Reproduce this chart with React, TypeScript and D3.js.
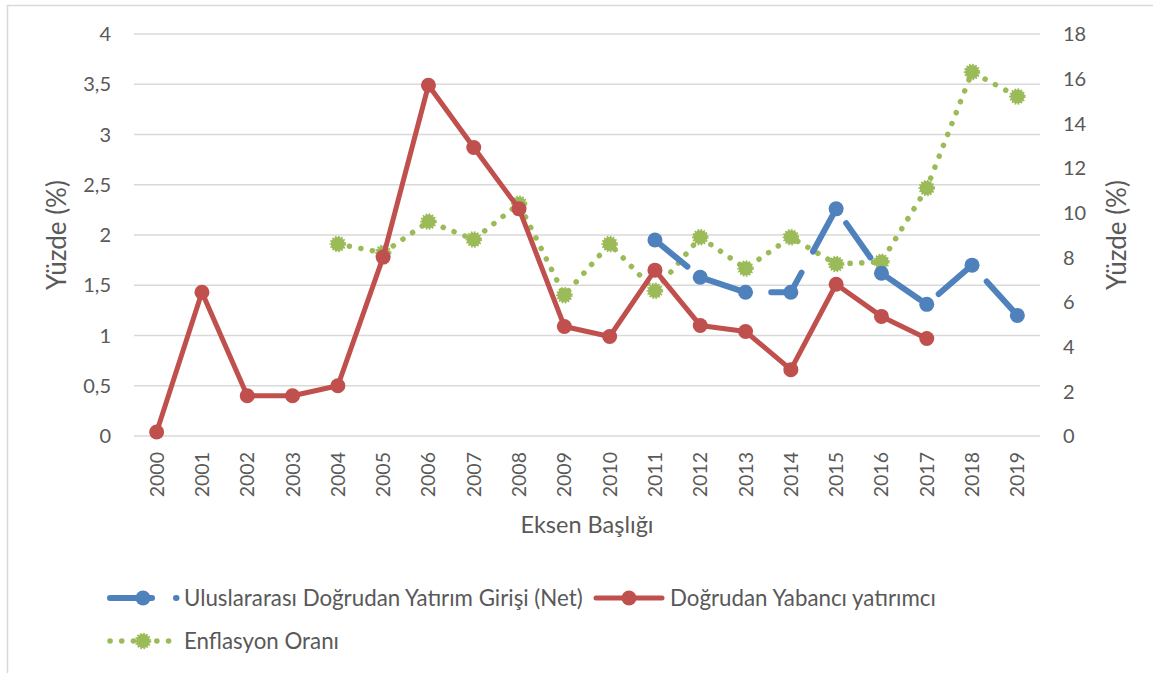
import React, { useEffect, useRef } from "react";
import { select, scaleBand, scaleLinear, line, range } from "d3";

const years = range(2000, 2020).map(String);

// Uluslararası Doğrudan Yatırım Girişi (Net) - left axis
const fdiInflow: (number | null)[] = [
    null, null, null, null, null, null, null, null, null, null, null,
    1.95, 1.58, 1.43, 1.43, 2.26, 1.62, 1.31, 1.70, 1.20,
];

// Doğrudan Yabancı yatırımcı - left axis
const foreignInvestor: (number | null)[] = [
    0.04, 1.43, 0.40, 0.40, 0.50, 1.78, 3.49, 2.87, 2.26, 1.09,
    0.99, 1.65, 1.10, 1.04, 0.66, 1.51, 1.19, 0.97, null, null,
];

// Enflasyon Oranı - right axis
const inflation: (number | null)[] = [
    null, null, null, null, 8.6, 8.2, 9.6, 8.8, 10.4, 6.3,
    8.6, 6.5, 8.9, 7.5, 8.9, 7.7, 7.8, 11.1, 16.3, 15.2,
];

const leftTicks = [0, 0.5, 1, 1.5, 2, 2.5, 3, 3.5, 4];
const rightTicks = [0, 2, 4, 6, 8, 10, 12, 14, 16, 18];

const BLUE = "#4F81BD";
const RED = "#C0504D";
const GREEN = "#9BBB59";
const TEXT = "#595959";
const GRID = "#D9D9D9";
const FONT = "Lato, 'Open Sans', sans-serif";

const fmt = (v: number) => String(v).replace(".", ",");

export default function App() {
    const svgRef = useRef<SVGSVGElement>(null);

    useEffect(() => {
        const svg = select(svgRef.current);
        svg.selectAll("*").remove();

        const width = 1153;
        const height = 673;
        const margin = { top: 34, right: 113, bottom: 237, left: 134 };

        // chart border
        svg.append("rect")
            .attr("x", 7.5)
            .attr("y", 5.5)
            .attr("width", 1200)
            .attr("height", 700)
            .attr("fill", "white")
            .attr("stroke", GRID)
            .attr("stroke-width", 1.5);

        const x = scaleBand()
            .domain(years)
            .range([margin.left, width - margin.right]);

        const yL = scaleLinear()
            .domain([0, 4])
            .range([height - margin.bottom, margin.top]);

        const yR = scaleLinear()
            .domain([0, 18])
            .range([height - margin.bottom, margin.top]);

        const cx = (i: number) => (x(years[i]) as number) + x.bandwidth() / 2;

        // === Gridlines ===
        svg.append("g")
            .selectAll("line")
            .data(leftTicks)
            .enter()
            .append("line")
            .attr("x1", margin.left)
            .attr("x2", width - margin.right)
            .attr("y1", (d) => yL(d))
            .attr("y2", (d) => yL(d))
            .attr("stroke", GRID)
            .attr("stroke-width", 1.5);

        // === Left axis labels ===
        svg.append("g")
            .selectAll("text")
            .data(leftTicks)
            .enter()
            .append("text")
            .attr("x", 111)
            .attr("y", (d) => yL(d))
            .attr("dy", "0.36em")
            .attr("text-anchor", "end")
            .attr("fill", TEXT)
            .attr("font-family", FONT)
            .attr("font-size", 20)
            .text((d) => fmt(d));

        // === Right axis labels ===
        svg.append("g")
            .selectAll("text")
            .data(rightTicks)
            .enter()
            .append("text")
            .attr("x", 1063)
            .attr("y", (d) => yR(d))
            .attr("dy", "0.36em")
            .attr("text-anchor", "start")
            .attr("fill", TEXT)
            .attr("font-family", FONT)
            .attr("font-size", 20)
            .text((d) => fmt(d));

        // === X labels (rotated) ===
        svg.append("g")
            .selectAll("text")
            .data(years)
            .enter()
            .append("text")
            .attr("transform", (d, i) => `translate(${cx(i)},452) rotate(-90)`)
            .attr("dy", "0.36em")
            .attr("text-anchor", "end")
            .attr("fill", TEXT)
            .attr("font-family", FONT)
            .attr("font-size", 19.5)
            .text((d) => d);

        // === Axis titles ===
        const midY = (margin.top + height - margin.bottom) / 2;
        svg.append("text")
            .attr("transform", `translate(66,${midY}) rotate(-90)`)
            .attr("text-anchor", "middle")
            .attr("fill", TEXT)
            .attr("font-family", FONT)
            .attr("font-size", 26)
            .text("Yüzde (%)");

        svg.append("text")
            .attr("transform", `translate(1126,${midY}) rotate(-90)`)
            .attr("text-anchor", "middle")
            .attr("fill", TEXT)
            .attr("font-family", FONT)
            .attr("font-size", 26)
            .text("Yüzde (%)");

        svg.append("text")
            .attr("x", (margin.left + width - margin.right) / 2)
            .attr("y", 533)
            .attr("text-anchor", "middle")
            .attr("fill", TEXT)
            .attr("font-family", FONT)
            .attr("font-size", 23.5)
            .text("Eksen Başlığı");

        // === Series ===
        const series = [
            { data: inflation, y: yR, color: GREEN, width: 5.5, dash: "0.1 11.6", r: 7, dotted: true },
            { data: foreignInvestor, y: yL, color: RED, width: 5, dash: null, r: 7.5, dotted: false },
            { data: fdiInflow, y: yL, color: BLUE, width: 6, dash: "42 24", r: 7.5, dotted: false },
        ];

        series.forEach((s) => {
            const pts = s.data
                .map((v, i) => ({ v, i }))
                .filter((d) => d.v !== null) as { v: number; i: number }[];

            const lineGen = line<{ v: number; i: number }>()
                .x((d) => cx(d.i))
                .y((d) => s.y(d.v));

            const path = svg.append("path")
                .datum(pts)
                .attr("fill", "none")
                .attr("stroke", s.color)
                .attr("stroke-width", s.width)
                .attr("stroke-linecap", "round")
                .attr("stroke-linejoin", "round")
                .attr("d", lineGen);
            if (s.dash) path.attr("stroke-dasharray", s.dash);

            const m = svg.append("g")
                .selectAll("circle")
                .data(pts)
                .enter()
                .append("circle")
                .attr("cx", (d) => cx(d.i))
                .attr("cy", (d) => s.y(d.v))
                .attr("r", s.r)
                .attr("fill", s.color);
            if (s.dotted) {
                m.attr("stroke", s.color)
                    .attr("stroke-width", 2.5)
                    .attr("stroke-dasharray", "1.5 1.5");
            }
        });

        // === Legend ===
        const legend = [
            { label: "Uluslararası Doğrudan Yatırım Girişi (Net)", color: BLUE, x: 107, y: 598, end: 176.5, dash: "42 24", width: 6, dotted: false },
            { label: "Doğrudan Yabancı yatırımcı", color: RED, x: 593, y: 598, end: 662, dash: null, width: 5, dotted: false },
            { label: "Enflasyon Oranı", color: GREEN, x: 107, y: 641, end: 178, dash: "0.1 11.6", width: 5.5, dotted: true },
        ];

        legend.forEach((l) => {
            const g = svg.append("g");
            const ln = g.append("line")
                .attr("x1", l.x + 3)
                .attr("x2", l.end)
                .attr("y1", l.y)
                .attr("y2", l.y)
                .attr("stroke", l.color)
                .attr("stroke-width", l.width)
                .attr("stroke-linecap", "round");
            if (l.dash) ln.attr("stroke-dasharray", l.dash);
            const c = g.append("circle")
                .attr("cx", l.x + 36)
                .attr("cy", l.y)
                .attr("r", l.dotted ? 7 : 7.5)
                .attr("fill", l.color);
            if (l.dotted) {
                c.attr("stroke", l.color).attr("stroke-width", 2.5).attr("stroke-dasharray", "1.5 1.5");
            }
            g.append("text")
                .attr("x", l.x + 77)
                .attr("y", l.y + 7.5)
                .attr("fill", TEXT)
                .attr("font-family", FONT)
                .attr("font-size", 22.3)
                .text(l.label);
        });
    }, []);

    return (
        <svg
            ref={svgRef}
            width={1153}
            height={673}
            style={{ position: "absolute", left: 0, top: 0, display: "block" }}
        ></svg>
    );
}
